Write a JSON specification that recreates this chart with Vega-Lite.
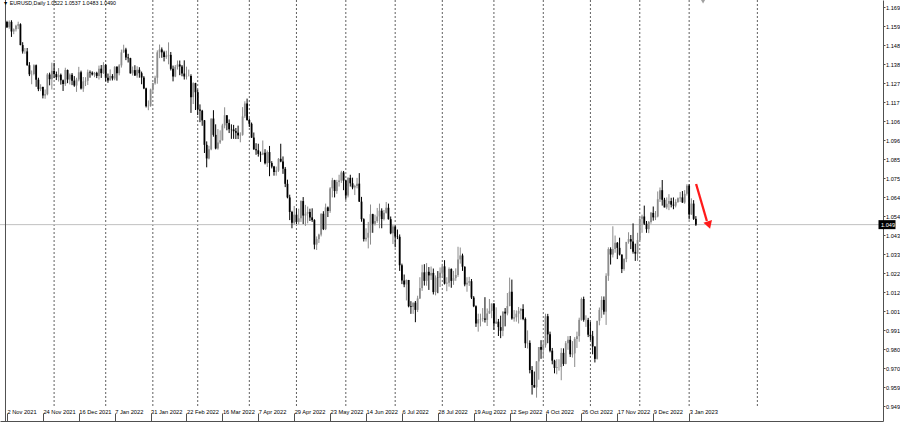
{
"$schema":"https://vega.github.io/schema/vega-lite/v6.json",
"width":883,"height":421,
"autosize":{"type":"none"},
"padding":{"left":0,"top":0,"right":17,"bottom":3},
"background":"white",
"config":{"view":{"stroke":null},"axis":{"labelFont":"Liberation Sans","labelOverlap":false,"labelBound":false,"labelFlush":false},"axisY":{"labelOverlap":false},"axisX":{"labelOverlap":false},"font":"Liberation Sans"},
"title":{"text":"▼ EURUSD,Daily  1.0522 1.0537 1.0483 1.0490","anchor":"start","frame":"group","offset":-7,"dx":3,"fontSize":5.3,"fontWeight":"normal","font":"Liberation Sans","color":"#000000"},
"datasets":{
"grid":[{"n":22},{"n":45},{"n":66},{"n":86},{"n":109},{"n":130},{"n":152},{"n":174},{"n":195},{"n":218},{"n":240},{"n":261},{"n":283},{"n":305},{"n":335.4}],
"ohlc":[
{"d":"2021-11-02","o":1.1607,"h":1.1614,"l":1.1574,"c":1.1579},
{"d":"2021-11-03","o":1.1579,"h":1.1616,"l":1.1570,"c":1.1608},
{"d":"2021-11-04","o":1.1608,"h":1.1617,"l":1.1525,"c":1.1555},
{"d":"2021-11-05","o":1.1555,"h":1.1572,"l":1.1540,"c":1.1567},
{"d":"2021-11-08","o":1.1567,"h":1.1592,"l":1.1555,"c":1.1587},
{"d":"2021-11-09","o":1.1587,"h":1.1609,"l":1.1568,"c":1.1595},
{"d":"2021-11-10","o":1.1595,"h":1.1600,"l":1.1479,"c":1.1480},
{"d":"2021-11-11","o":1.1480,"h":1.1496,"l":1.1433,"c":1.1445},
{"d":"2021-11-12","o":1.1445,"h":1.1464,"l":1.1432,"c":1.1445},
{"d":"2021-11-15","o":1.1445,"h":1.1464,"l":1.1366,"c":1.1369},
{"d":"2021-11-16","o":1.1369,"h":1.1386,"l":1.1309,"c":1.1319},
{"d":"2021-11-17","o":1.1319,"h":1.1340,"l":1.1264,"c":1.1320},
{"d":"2021-11-18","o":1.1320,"h":1.1374,"l":1.1313,"c":1.1369},
{"d":"2021-11-19","o":1.1369,"h":1.1373,"l":1.1250,"c":1.1289},
{"d":"2021-11-22","o":1.1289,"h":1.1300,"l":1.1226,"c":1.1237},
{"d":"2021-11-23","o":1.1237,"h":1.1264,"l":1.1226,"c":1.1249},
{"d":"2021-11-24","o":1.1249,"h":1.1251,"l":1.1186,"c":1.1202},
{"d":"2021-11-25","o":1.1202,"h":1.1235,"l":1.1184,"c":1.1209},
{"d":"2021-11-26","o":1.1209,"h":1.1326,"l":1.1203,"c":1.1318},
{"d":"2021-11-29","o":1.1318,"h":1.1328,"l":1.1258,"c":1.1292},
{"d":"2021-11-30","o":1.1292,"h":1.1383,"l":1.1235,"c":1.1338},
{"d":"2021-12-01","o":1.1338,"h":1.1382,"l":1.1298,"c":1.1320},
{"d":"2021-12-02","o":1.1320,"h":1.1334,"l":1.1287,"c":1.1303},
{"d":"2021-12-03","o":1.1303,"h":1.1353,"l":1.1279,"c":1.1316},
{"d":"2021-12-06","o":1.1316,"h":1.1323,"l":1.1262,"c":1.1286},
{"d":"2021-12-07","o":1.1286,"h":1.1290,"l":1.1227,"c":1.1265},
{"d":"2021-12-08","o":1.1265,"h":1.1355,"l":1.1255,"c":1.1343},
{"d":"2021-12-09","o":1.1343,"h":1.1345,"l":1.1270,"c":1.1290},
{"d":"2021-12-10","o":1.1290,"h":1.1324,"l":1.1263,"c":1.1317},
{"d":"2021-12-13","o":1.1317,"h":1.1326,"l":1.1259,"c":1.1284},
{"d":"2021-12-14","o":1.1284,"h":1.1309,"l":1.1250,"c":1.1257},
{"d":"2021-12-15","o":1.1257,"h":1.1300,"l":1.1222,"c":1.1290},
{"d":"2021-12-16","o":1.1290,"h":1.1360,"l":1.1280,"c":1.1330},
{"d":"2021-12-17","o":1.1330,"h":1.1339,"l":1.1235,"c":1.1240},
{"d":"2021-12-20","o":1.1240,"h":1.1304,"l":1.1222,"c":1.1280},
{"d":"2021-12-21","o":1.1280,"h":1.1303,"l":1.1254,"c":1.1283},
{"d":"2021-12-22","o":1.1283,"h":1.1345,"l":1.1260,"c":1.1330},
{"d":"2021-12-23","o":1.1330,"h":1.1340,"l":1.1300,"c":1.1328},
{"d":"2021-12-24","o":1.1328,"h":1.1335,"l":1.1312,"c":1.1318},
{"d":"2021-12-27","o":1.1318,"h":1.1332,"l":1.1303,"c":1.1327},
{"d":"2021-12-28","o":1.1327,"h":1.1333,"l":1.1298,"c":1.1310},
{"d":"2021-12-29","o":1.1310,"h":1.1367,"l":1.1290,"c":1.1350},
{"d":"2021-12-30","o":1.1350,"h":1.1370,"l":1.1299,"c":1.1325},
{"d":"2021-12-31","o":1.1325,"h":1.1386,"l":1.1321,"c":1.1370},
{"d":"2022-01-03","o":1.1370,"h":1.1376,"l":1.1280,"c":1.1300},
{"d":"2022-01-04","o":1.1300,"h":1.1323,"l":1.1272,"c":1.1285},
{"d":"2022-01-05","o":1.1285,"h":1.1346,"l":1.1285,"c":1.1310},
{"d":"2022-01-06","o":1.1310,"h":1.1320,"l":1.1285,"c":1.1296},
{"d":"2022-01-07","o":1.1296,"h":1.1364,"l":1.1286,"c":1.1360},
{"d":"2022-01-10","o":1.1360,"h":1.1363,"l":1.1284,"c":1.1325},
{"d":"2022-01-11","o":1.1325,"h":1.1375,"l":1.1313,"c":1.1368},
{"d":"2022-01-12","o":1.1368,"h":1.1455,"l":1.1356,"c":1.1440},
{"d":"2022-01-13","o":1.1440,"h":1.1482,"l":1.1437,"c":1.1455},
{"d":"2022-01-14","o":1.1455,"h":1.1465,"l":1.1397,"c":1.1412},
{"d":"2022-01-17","o":1.1412,"h":1.1432,"l":1.1384,"c":1.1408},
{"d":"2022-01-18","o":1.1408,"h":1.1410,"l":1.1323,"c":1.1324},
{"d":"2022-01-19","o":1.1324,"h":1.1362,"l":1.1312,"c":1.1342},
{"d":"2022-01-20","o":1.1342,"h":1.1369,"l":1.1310,"c":1.1312},
{"d":"2022-01-21","o":1.1312,"h":1.1363,"l":1.1300,"c":1.1344},
{"d":"2022-01-24","o":1.1344,"h":1.1358,"l":1.1300,"c":1.1325},
{"d":"2022-01-25","o":1.1325,"h":1.1334,"l":1.1264,"c":1.1301},
{"d":"2022-01-26","o":1.1301,"h":1.1309,"l":1.1237,"c":1.1241},
{"d":"2022-01-27","o":1.1241,"h":1.1245,"l":1.1136,"c":1.1143},
{"d":"2022-01-28","o":1.1143,"h":1.1175,"l":1.1121,"c":1.1145},
{"d":"2022-01-31","o":1.1145,"h":1.1240,"l":1.1140,"c":1.1235},
{"d":"2022-02-01","o":1.1235,"h":1.1272,"l":1.1215,"c":1.1270},
{"d":"2022-02-02","o":1.1270,"h":1.1311,"l":1.1262,"c":1.1300},
{"d":"2022-02-03","o":1.1300,"h":1.1451,"l":1.1267,"c":1.1440},
{"d":"2022-02-04","o":1.1440,"h":1.1483,"l":1.1408,"c":1.1456},
{"d":"2022-02-07","o":1.1456,"h":1.1467,"l":1.1410,"c":1.1440},
{"d":"2022-02-08","o":1.1440,"h":1.1449,"l":1.1390,"c":1.1414},
{"d":"2022-02-09","o":1.1414,"h":1.1449,"l":1.1404,"c":1.1423},
{"d":"2022-02-10","o":1.1423,"h":1.1495,"l":1.1374,"c":1.1426},
{"d":"2022-02-11","o":1.1426,"h":1.1442,"l":1.1340,"c":1.1349},
{"d":"2022-02-14","o":1.1349,"h":1.1367,"l":1.1280,"c":1.1307},
{"d":"2022-02-15","o":1.1307,"h":1.1370,"l":1.1303,"c":1.1360},
{"d":"2022-02-16","o":1.1360,"h":1.1395,"l":1.1345,"c":1.1373},
{"d":"2022-02-17","o":1.1373,"h":1.1395,"l":1.1314,"c":1.1362},
{"d":"2022-02-18","o":1.1362,"h":1.1370,"l":1.1308,"c":1.1323},
{"d":"2022-02-21","o":1.1323,"h":1.1396,"l":1.1290,"c":1.1307},
{"d":"2022-02-22","o":1.1307,"h":1.1361,"l":1.1290,"c":1.1309},
{"d":"2022-02-23","o":1.1309,"h":1.1345,"l":1.1308,"c":1.1310},
{"d":"2022-02-24","o":1.1310,"h":1.1319,"l":1.1106,"c":1.1193},
{"d":"2022-02-25","o":1.1193,"h":1.1275,"l":1.1155,"c":1.1270},
{"d":"2022-02-28","o":1.1270,"h":1.1272,"l":1.1122,"c":1.1220},
{"d":"2022-03-01","o":1.1220,"h":1.1234,"l":1.1094,"c":1.1125},
{"d":"2022-03-02","o":1.1125,"h":1.1153,"l":1.1055,"c":1.1118},
{"d":"2022-03-03","o":1.1118,"h":1.1123,"l":1.1035,"c":1.1065},
{"d":"2022-03-04","o":1.1065,"h":1.1067,"l":1.0885,"c":1.0930},
{"d":"2022-03-07","o":1.0930,"h":1.0949,"l":1.0806,"c":1.0855},
{"d":"2022-03-08","o":1.0855,"h":1.0925,"l":1.0850,"c":1.0905},
{"d":"2022-03-09","o":1.0905,"h":1.1075,"l":1.0900,"c":1.1075},
{"d":"2022-03-10","o":1.1075,"h":1.1121,"l":1.0975,"c":1.0985},
{"d":"2022-03-11","o":1.0985,"h":1.1043,"l":1.0905,"c":1.0910},
{"d":"2022-03-14","o":1.0910,"h":1.1017,"l":1.0903,"c":1.0943},
{"d":"2022-03-15","o":1.0943,"h":1.1010,"l":1.0935,"c":1.0955},
{"d":"2022-03-16","o":1.0955,"h":1.1046,"l":1.0954,"c":1.1037},
{"d":"2022-03-17","o":1.1037,"h":1.1137,"l":1.1021,"c":1.1093},
{"d":"2022-03-18","o":1.1093,"h":1.1094,"l":1.1010,"c":1.1050},
{"d":"2022-03-21","o":1.1050,"h":1.1070,"l":1.0995,"c":1.1016},
{"d":"2022-03-22","o":1.1016,"h":1.1043,"l":1.0963,"c":1.1015},
{"d":"2022-03-23","o":1.1015,"h":1.1040,"l":1.0963,"c":1.1005},
{"d":"2022-03-24","o":1.1005,"h":1.1023,"l":1.0962,"c":1.0997},
{"d":"2022-03-25","o":1.0997,"h":1.1036,"l":1.0962,"c":1.0982},
{"d":"2022-03-28","o":1.0982,"h":1.0999,"l":1.0944,"c":1.0985},
{"d":"2022-03-29","o":1.0985,"h":1.1138,"l":1.0980,"c":1.1087},
{"d":"2022-03-30","o":1.1087,"h":1.1170,"l":1.1078,"c":1.1158},
{"d":"2022-03-31","o":1.1158,"h":1.1185,"l":1.1063,"c":1.1067},
{"d":"2022-04-01","o":1.1067,"h":1.1076,"l":1.1028,"c":1.1046},
{"d":"2022-04-04","o":1.1046,"h":1.1053,"l":1.0968,"c":1.0970},
{"d":"2022-04-05","o":1.0970,"h":1.0998,"l":1.0903,"c":1.0905},
{"d":"2022-04-06","o":1.0905,"h":1.0939,"l":1.0875,"c":1.0900},
{"d":"2022-04-07","o":1.0900,"h":1.0936,"l":1.0865,"c":1.0880},
{"d":"2022-04-08","o":1.0880,"h":1.0893,"l":1.0836,"c":1.0877},
{"d":"2022-04-11","o":1.0877,"h":1.0954,"l":1.0873,"c":1.0886},
{"d":"2022-04-12","o":1.0886,"h":1.0906,"l":1.0822,"c":1.0828},
{"d":"2022-04-13","o":1.0828,"h":1.0899,"l":1.0808,"c":1.0890},
{"d":"2022-04-14","o":1.0890,"h":1.0924,"l":1.0757,"c":1.0830},
{"d":"2022-04-15","o":1.0830,"h":1.0840,"l":1.0800,"c":1.0810},
{"d":"2022-04-18","o":1.0810,"h":1.0814,"l":1.0760,"c":1.0780},
{"d":"2022-04-19","o":1.0780,"h":1.0810,"l":1.0760,"c":1.0788},
{"d":"2022-04-20","o":1.0788,"h":1.0857,"l":1.0781,"c":1.0853},
{"d":"2022-04-21","o":1.0853,"h":1.0936,"l":1.0834,"c":1.0838},
{"d":"2022-04-22","o":1.0838,"h":1.0866,"l":1.0770,"c":1.0798},
{"d":"2022-04-25","o":1.0798,"h":1.0808,"l":1.0697,"c":1.0715},
{"d":"2022-04-26","o":1.0715,"h":1.0738,"l":1.0635,"c":1.0640},
{"d":"2022-04-27","o":1.0640,"h":1.0655,"l":1.0515,"c":1.0560},
{"d":"2022-04-28","o":1.0560,"h":1.0566,"l":1.0470,"c":1.0500},
{"d":"2022-04-29","o":1.0500,"h":1.0593,"l":1.0490,"c":1.0545},
{"d":"2022-05-02","o":1.0545,"h":1.0580,"l":1.0492,"c":1.0505},
{"d":"2022-05-03","o":1.0505,"h":1.0578,"l":1.0492,"c":1.0525},
{"d":"2022-05-04","o":1.0525,"h":1.0624,"l":1.0505,"c":1.0620},
{"d":"2022-05-05","o":1.0620,"h":1.0642,"l":1.0493,"c":1.0540},
{"d":"2022-05-06","o":1.0540,"h":1.0599,"l":1.0483,"c":1.0550},
{"d":"2022-05-09","o":1.0550,"h":1.0590,"l":1.0497,"c":1.0560},
{"d":"2022-05-10","o":1.0560,"h":1.0578,"l":1.0510,"c":1.0530},
{"d":"2022-05-11","o":1.0530,"h":1.0580,"l":1.0505,"c":1.0515},
{"d":"2022-05-12","o":1.0515,"h":1.0520,"l":1.0354,"c":1.0380},
{"d":"2022-05-13","o":1.0380,"h":1.0425,"l":1.0350,"c":1.0410},
{"d":"2022-05-16","o":1.0410,"h":1.0440,"l":1.0389,"c":1.0435},
{"d":"2022-05-17","o":1.0435,"h":1.0552,"l":1.0425,"c":1.0550},
{"d":"2022-05-18","o":1.0550,"h":1.0564,"l":1.0460,"c":1.0465},
{"d":"2022-05-19","o":1.0465,"h":1.0606,"l":1.0460,"c":1.0585},
{"d":"2022-05-20","o":1.0585,"h":1.0590,"l":1.0532,"c":1.0565},
{"d":"2022-05-23","o":1.0565,"h":1.0697,"l":1.0555,"c":1.0690},
{"d":"2022-05-24","o":1.0690,"h":1.0748,"l":1.0640,"c":1.0735},
{"d":"2022-05-25","o":1.0735,"h":1.0737,"l":1.0640,"c":1.0675},
{"d":"2022-05-26","o":1.0675,"h":1.0737,"l":1.0660,"c":1.0725},
{"d":"2022-05-27","o":1.0725,"h":1.0765,"l":1.0700,"c":1.0733},
{"d":"2022-05-30","o":1.0733,"h":1.0787,"l":1.0720,"c":1.0778},
{"d":"2022-05-31","o":1.0778,"h":1.0786,"l":1.0680,"c":1.0733},
{"d":"2022-06-01","o":1.0733,"h":1.0738,"l":1.0627,"c":1.0650},
{"d":"2022-06-02","o":1.0650,"h":1.0750,"l":1.0640,"c":1.0748},
{"d":"2022-06-03","o":1.0748,"h":1.0765,"l":1.0700,"c":1.0718},
{"d":"2022-06-06","o":1.0718,"h":1.0749,"l":1.0685,"c":1.0695},
{"d":"2022-06-07","o":1.0695,"h":1.0710,"l":1.0653,"c":1.0703},
{"d":"2022-06-08","o":1.0703,"h":1.0748,"l":1.0690,"c":1.0716},
{"d":"2022-06-09","o":1.0716,"h":1.0774,"l":1.0615,"c":1.0617},
{"d":"2022-06-10","o":1.0617,"h":1.0643,"l":1.0506,"c":1.0520},
{"d":"2022-06-13","o":1.0520,"h":1.0525,"l":1.0397,"c":1.0410},
{"d":"2022-06-14","o":1.0410,"h":1.0470,"l":1.0397,"c":1.0418},
{"d":"2022-06-15","o":1.0418,"h":1.0505,"l":1.0359,"c":1.0445},
{"d":"2022-06-16","o":1.0445,"h":1.0601,"l":1.0380,"c":1.0548},
{"d":"2022-06-17","o":1.0548,"h":1.0550,"l":1.0445,"c":1.0495},
{"d":"2022-06-20","o":1.0495,"h":1.0545,"l":1.0485,"c":1.0510},
{"d":"2022-06-21","o":1.0510,"h":1.0582,"l":1.0500,"c":1.0535},
{"d":"2022-06-22","o":1.0535,"h":1.0606,"l":1.0470,"c":1.0567},
{"d":"2022-06-23","o":1.0567,"h":1.0580,"l":1.0470,"c":1.0521},
{"d":"2022-06-24","o":1.0521,"h":1.0571,"l":1.0513,"c":1.0555},
{"d":"2022-06-27","o":1.0555,"h":1.0615,"l":1.0551,"c":1.0583},
{"d":"2022-06-28","o":1.0583,"h":1.0606,"l":1.0518,"c":1.0520},
{"d":"2022-06-29","o":1.0520,"h":1.0535,"l":1.0437,"c":1.0442},
{"d":"2022-06-30","o":1.0442,"h":1.0488,"l":1.0383,"c":1.0480},
{"d":"2022-07-01","o":1.0480,"h":1.0486,"l":1.0365,"c":1.0425},
{"d":"2022-07-04","o":1.0425,"h":1.0463,"l":1.0410,"c":1.0423},
{"d":"2022-07-05","o":1.0423,"h":1.0436,"l":1.0235,"c":1.0266},
{"d":"2022-07-06","o":1.0266,"h":1.0275,"l":1.0162,"c":1.0182},
{"d":"2022-07-07","o":1.0182,"h":1.0215,"l":1.0145,"c":1.0160},
{"d":"2022-07-08","o":1.0160,"h":1.0187,"l":1.0072,"c":1.0185},
{"d":"2022-07-11","o":1.0185,"h":1.0185,"l":1.0034,"c":1.0040},
{"d":"2022-07-12","o":1.0040,"h":1.0068,"l":0.9998,"c":1.0036},
{"d":"2022-07-13","o":1.0036,"h":1.0060,"l":0.9998,"c":1.0060},
{"d":"2022-07-14","o":1.0060,"h":1.0069,"l":0.9952,"c":1.0020},
{"d":"2022-07-15","o":1.0020,"h":1.0098,"l":1.0008,"c":1.0083},
{"d":"2022-07-18","o":1.0083,"h":1.0200,"l":1.0080,"c":1.0140},
{"d":"2022-07-19","o":1.0140,"h":1.0269,"l":1.0125,"c":1.0227},
{"d":"2022-07-20","o":1.0227,"h":1.0272,"l":1.0154,"c":1.0180},
{"d":"2022-07-21","o":1.0180,"h":1.0278,"l":1.0153,"c":1.0230},
{"d":"2022-07-22","o":1.0230,"h":1.0256,"l":1.0130,"c":1.0210},
{"d":"2022-07-25","o":1.0210,"h":1.0259,"l":1.0185,"c":1.0224},
{"d":"2022-07-26","o":1.0224,"h":1.0248,"l":1.0105,"c":1.0118},
{"d":"2022-07-27","o":1.0118,"h":1.0210,"l":1.0100,"c":1.0198},
{"d":"2022-07-28","o":1.0198,"h":1.0234,"l":1.0112,"c":1.0197},
{"d":"2022-07-29","o":1.0197,"h":1.0254,"l":1.0146,"c":1.0225},
{"d":"2022-08-01","o":1.0225,"h":1.0274,"l":1.0197,"c":1.0260},
{"d":"2022-08-02","o":1.0260,"h":1.0294,"l":1.0160,"c":1.0165},
{"d":"2022-08-03","o":1.0165,"h":1.0200,"l":1.0123,"c":1.0170},
{"d":"2022-08-04","o":1.0170,"h":1.0254,"l":1.0148,"c":1.0245},
{"d":"2022-08-05","o":1.0245,"h":1.0249,"l":1.0142,"c":1.0180},
{"d":"2022-08-08","o":1.0180,"h":1.0235,"l":1.0158,"c":1.0195},
{"d":"2022-08-09","o":1.0195,"h":1.0249,"l":1.0180,"c":1.0212},
{"d":"2022-08-10","o":1.0212,"h":1.0368,"l":1.0202,"c":1.0298},
{"d":"2022-08-11","o":1.0298,"h":1.0364,"l":1.0275,"c":1.0320},
{"d":"2022-08-12","o":1.0320,"h":1.0330,"l":1.0235,"c":1.0258},
{"d":"2022-08-15","o":1.0258,"h":1.0260,"l":1.0150,"c":1.0160},
{"d":"2022-08-16","o":1.0160,"h":1.0200,"l":1.0120,"c":1.0170},
{"d":"2022-08-17","o":1.0170,"h":1.0202,"l":1.0152,"c":1.0178},
{"d":"2022-08-18","o":1.0178,"h":1.0190,"l":1.0080,"c":1.0088},
{"d":"2022-08-19","o":1.0088,"h":1.0096,"l":1.0035,"c":1.0040},
{"d":"2022-08-22","o":1.0040,"h":1.0045,"l":0.9926,"c":0.9945},
{"d":"2022-08-23","o":0.9945,"h":0.9999,"l":0.9900,"c":0.9968},
{"d":"2022-08-24","o":0.9968,"h":0.9999,"l":0.9929,"c":0.9970},
{"d":"2022-08-25","o":0.9970,"h":1.0030,"l":0.9955,"c":0.9973},
{"d":"2022-08-26","o":0.9973,"h":1.0090,"l":0.9950,"c":0.9965},
{"d":"2022-08-29","o":0.9965,"h":1.0028,"l":0.9931,"c":1.0000},
{"d":"2022-08-30","o":1.0000,"h":1.0080,"l":0.9998,"c":1.0015},
{"d":"2022-08-31","o":1.0015,"h":1.0055,"l":0.9974,"c":1.0055},
{"d":"2022-09-01","o":1.0055,"h":1.0056,"l":0.9910,"c":0.9945},
{"d":"2022-09-02","o":0.9945,"h":1.0034,"l":0.9942,"c":0.9955},
{"d":"2022-09-05","o":0.9955,"h":0.9970,"l":0.9876,"c":0.9925},
{"d":"2022-09-06","o":0.9925,"h":0.9988,"l":0.9864,"c":0.9905},
{"d":"2022-09-07","o":0.9905,"h":1.0012,"l":0.9875,"c":1.0010},
{"d":"2022-09-08","o":1.0010,"h":1.0030,"l":0.9929,"c":1.0000},
{"d":"2022-09-09","o":1.0000,"h":1.0113,"l":0.9990,"c":1.0041},
{"d":"2022-09-12","o":1.0041,"h":1.0198,"l":1.0040,"c":1.0120},
{"d":"2022-09-13","o":1.0120,"h":1.0187,"l":0.9966,"c":0.9972},
{"d":"2022-09-14","o":0.9972,"h":1.0019,"l":0.9955,"c":0.9979},
{"d":"2022-09-15","o":0.9979,"h":1.0017,"l":0.9955,"c":0.9999},
{"d":"2022-09-16","o":0.9999,"h":1.0036,"l":0.9945,"c":1.0015},
{"d":"2022-09-19","o":1.0015,"h":1.0030,"l":0.9966,"c":1.0025},
{"d":"2022-09-20","o":1.0025,"h":1.0051,"l":0.9963,"c":0.9970},
{"d":"2022-09-21","o":0.9970,"h":0.9978,"l":0.9810,"c":0.9836},
{"d":"2022-09-22","o":0.9836,"h":0.9907,"l":0.9807,"c":0.9838},
{"d":"2022-09-23","o":0.9838,"h":0.9852,"l":0.9670,"c":0.9688},
{"d":"2022-09-26","o":0.9688,"h":0.9710,"l":0.9553,"c":0.9606},
{"d":"2022-09-27","o":0.9606,"h":0.9680,"l":0.9590,"c":0.9593},
{"d":"2022-09-28","o":0.9593,"h":0.9737,"l":0.9536,"c":0.9736},
{"d":"2022-09-29","o":0.9736,"h":0.9815,"l":0.9635,"c":0.9815},
{"d":"2022-09-30","o":0.9815,"h":0.9853,"l":0.9750,"c":0.9800},
{"d":"2022-10-03","o":0.9800,"h":0.9853,"l":0.9752,"c":0.9825},
{"d":"2022-10-04","o":0.9825,"h":0.9999,"l":0.9812,"c":0.9985},
{"d":"2022-10-05","o":0.9985,"h":0.9998,"l":0.9836,"c":0.9885},
{"d":"2022-10-06","o":0.9885,"h":0.9900,"l":0.9786,"c":0.9795},
{"d":"2022-10-07","o":0.9795,"h":0.9810,"l":0.9720,"c":0.9740},
{"d":"2022-10-10","o":0.9740,"h":0.9745,"l":0.9670,"c":0.9700},
{"d":"2022-10-11","o":0.9700,"h":0.9748,"l":0.9665,"c":0.9705},
{"d":"2022-10-12","o":0.9705,"h":0.9748,"l":0.9685,"c":0.9705},
{"d":"2022-10-13","o":0.9705,"h":0.9809,"l":0.9632,"c":0.9783},
{"d":"2022-10-14","o":0.9783,"h":0.9808,"l":0.9711,"c":0.9722},
{"d":"2022-10-17","o":0.9722,"h":0.9848,"l":0.9720,"c":0.9836},
{"d":"2022-10-18","o":0.9836,"h":0.9875,"l":0.9800,"c":0.9855},
{"d":"2022-10-19","o":0.9855,"h":0.9876,"l":0.9760,"c":0.9775},
{"d":"2022-10-20","o":0.9775,"h":0.9848,"l":0.9757,"c":0.9780},
{"d":"2022-10-21","o":0.9780,"h":0.9870,"l":0.9705,"c":0.9860},
{"d":"2022-10-24","o":0.9860,"h":0.9900,"l":0.9810,"c":0.9875},
{"d":"2022-10-25","o":0.9875,"h":0.9977,"l":0.9844,"c":0.9965},
{"d":"2022-10-26","o":0.9965,"h":1.0088,"l":0.9960,"c":1.0080},
{"d":"2022-10-27","o":1.0080,"h":1.0093,"l":0.9955,"c":0.9965},
{"d":"2022-10-28","o":0.9965,"h":0.9990,"l":0.9926,"c":0.9965},
{"d":"2022-10-31","o":0.9965,"h":0.9976,"l":0.9870,"c":0.9883},
{"d":"2022-11-01","o":0.9883,"h":0.9953,"l":0.9853,"c":0.9875},
{"d":"2022-11-02","o":0.9875,"h":0.9904,"l":0.9775,"c":0.9818},
{"d":"2022-11-03","o":0.9818,"h":0.9819,"l":0.9730,"c":0.9750},
{"d":"2022-11-04","o":0.9750,"h":0.9958,"l":0.9746,"c":0.9960},
{"d":"2022-11-07","o":0.9960,"h":1.0033,"l":0.9935,"c":1.0020},
{"d":"2022-11-08","o":1.0020,"h":1.0095,"l":0.9975,"c":1.0075},
{"d":"2022-11-09","o":1.0075,"h":1.0094,"l":0.9994,"c":1.0010},
{"d":"2022-11-10","o":1.0010,"h":1.0222,"l":0.9937,"c":1.0208},
{"d":"2022-11-11","o":1.0208,"h":1.0365,"l":1.0180,"c":1.0355},
{"d":"2022-11-14","o":1.0355,"h":1.0365,"l":1.0270,"c":1.0325},
{"d":"2022-11-15","o":1.0325,"h":1.0481,"l":1.0309,"c":1.0355},
{"d":"2022-11-16","o":1.0355,"h":1.0430,"l":1.0335,"c":1.0390},
{"d":"2022-11-17","o":1.0390,"h":1.0394,"l":1.0300,"c":1.0362},
{"d":"2022-11-18","o":1.0362,"h":1.0418,"l":1.0320,"c":1.0325},
{"d":"2022-11-21","o":1.0325,"h":1.0325,"l":1.0223,"c":1.0245},
{"d":"2022-11-22","o":1.0245,"h":1.0305,"l":1.0236,"c":1.0300},
{"d":"2022-11-23","o":1.0300,"h":1.0393,"l":1.0283,"c":1.0395},
{"d":"2022-11-24","o":1.0395,"h":1.0448,"l":1.0385,"c":1.0410},
{"d":"2022-11-25","o":1.0410,"h":1.0433,"l":1.0355,"c":1.0397},
{"d":"2022-11-28","o":1.0397,"h":1.0497,"l":1.0330,"c":1.0340},
{"d":"2022-11-29","o":1.0340,"h":1.0385,"l":1.0290,"c":1.0330},
{"d":"2022-11-30","o":1.0330,"h":1.0445,"l":1.0290,"c":1.0405},
{"d":"2022-12-01","o":1.0405,"h":1.0535,"l":1.0395,"c":1.0522},
{"d":"2022-12-02","o":1.0522,"h":1.0545,"l":1.0445,"c":1.0535},
{"d":"2022-12-05","o":1.0535,"h":1.0595,"l":1.0488,"c":1.0495},
{"d":"2022-12-06","o":1.0495,"h":1.0510,"l":1.0445,"c":1.0465},
{"d":"2022-12-07","o":1.0465,"h":1.0510,"l":1.0443,"c":1.0505},
{"d":"2022-12-08","o":1.0505,"h":1.0560,"l":1.0495,"c":1.0555},
{"d":"2022-12-09","o":1.0555,"h":1.0590,"l":1.0512,"c":1.0530},
{"d":"2022-12-12","o":1.0530,"h":1.0565,"l":1.0515,"c":1.0535},
{"d":"2022-12-13","o":1.0535,"h":1.0673,"l":1.0530,"c":1.0630},
{"d":"2022-12-14","o":1.0630,"h":1.0695,"l":1.0615,"c":1.0680},
{"d":"2022-12-15","o":1.0680,"h":1.0736,"l":1.0595,"c":1.0627},
{"d":"2022-12-16","o":1.0627,"h":1.0638,"l":1.0585,"c":1.0585},
{"d":"2022-12-19","o":1.0585,"h":1.0640,"l":1.0575,"c":1.0605},
{"d":"2022-12-20","o":1.0605,"h":1.0658,"l":1.0570,"c":1.0620},
{"d":"2022-12-21","o":1.0620,"h":1.0638,"l":1.0585,"c":1.0600},
{"d":"2022-12-22","o":1.0600,"h":1.0640,"l":1.0575,"c":1.0595},
{"d":"2022-12-23","o":1.0595,"h":1.0630,"l":1.0585,"c":1.0615},
{"d":"2022-12-26","o":1.0615,"h":1.0640,"l":1.0610,"c":1.0635},
{"d":"2022-12-27","o":1.0635,"h":1.0670,"l":1.0615,"c":1.0640},
{"d":"2022-12-28","o":1.0640,"h":1.0675,"l":1.0610,"c":1.0612},
{"d":"2022-12-29","o":1.0612,"h":1.0680,"l":1.0605,"c":1.0660},
{"d":"2022-12-30","o":1.0660,"h":1.0713,"l":1.0650,"c":1.0705},
{"d":"2023-01-03","o":1.0705,"h":1.0713,"l":1.0519,"c":1.0546},
{"d":"2023-01-04","o":1.0546,"h":1.0635,"l":1.0544,"c":1.0606},
{"d":"2023-01-05","o":1.0606,"h":1.0625,"l":1.0516,"c":1.0522},
{"d":"2023-01-06","o":1.0522,"h":1.0537,"l":1.0483,"c":1.0490}
]},
"layer":[
{"data":{"name":"grid"},
 "mark":{"type":"rule","stroke":"#606060","strokeWidth":1,"strokeDash":[2,2]},
 "encoding":{
  "x":{"field":"n","type":"quantitative","title":null,"scale":{"domain":[0.1188,389.16],"nice":false,"zero":false}},
  "y":{"datum":1.17286,"type":"quantitative","title":null,"scale":{"domain":[0.94073,1.17286],"nice":false,"zero":false}},
  "y2":{"datum":0.9479}}},
{"data":{"values":[{}]},
 "mark":{"type":"rule","stroke":"#c0c0c0","strokeWidth":1},
 "encoding":{"y":{"datum":1.049,"type":"quantitative","title":null,"scale":{"domain":[0.94073,1.17286],"nice":false,"zero":false}}}},
{"data":{"values":[{}]},
 "mark":{"type":"rule","stroke":"#505050","strokeWidth":1},
 "encoding":{"x":{"datum":0.339,"type":"quantitative","title":null,"scale":{"domain":[0.1188,389.16],"nice":false,"zero":false}}}},
{"data":{"name":"ohlc"},
 "transform":[{"window":[{"op":"row_number","as":"n"}]}],
 "encoding":{
  "x":{"field":"n","type":"quantitative","title":null,"scale":{"domain":[0.1188,389.16],"nice":false,"zero":false},
   "axis":{"orient":"bottom","title":null,"grid":false,"tickCount":40,"values":[1,17,33,49,65,81,97,113,129,145,161,177,193,209,225,241,257,273,289,305],
    "labelExpr":"['2 Nov 2021','24 Nov 2021','16 Dec 2021','7 Jan 2022','31 Jan 2022','22 Feb 2022','16 Mar 2022','7 Apr 2022','29 Apr 2022','23 May 2022','14 Jun 2022','6 Jul 2022','28 Jul 2022','19 Aug 2022','12 Sep 2022','4 Oct 2022','26 Oct 2022','17 Nov 2022','9 Dec 2022','3 Jan 2023'][(datum.value-1)/16]",
    "domainColor":"#505050","tickColor":"#505050","tickSize":-8,"labelPadding":-5,"labelAlign":"left","labelBaseline":"top","labelDx":2,
    "labelFontSize":5.7,"labelFont":"Liberation Sans","labelColor":"#000000","labelOverlap":false,"labelFlush":false,"labelBound":false}},
  "color":{"condition":{"test":"datum.c >= datum.o","value":"#8c8c8c"},"value":"#000000"}},
 "layer":[
  {"mark":{"type":"rule","strokeWidth":1},
   "encoding":{
    "y":{"field":"h","type":"quantitative","title":null,"scale":{"domain":[0.94073,1.17286],"nice":false,"zero":false},
     "axis":{"orient":"right","title":null,"grid":false,"tickCount":40,
      "values":[1.169,1.158524,1.148048,1.137571,1.127095,1.116619,1.106143,1.095667,1.08519,1.074714,1.064238,1.053762,1.043286,1.03281,1.022333,1.011857,1.001381,0.990905,0.980429,0.969952,0.959476,0.949],
      "format":".3f","domainColor":"#505050","tickColor":"#505050","tickSize":2,"labelPadding":0.5,"labelAlign":"left","labelBaseline":"middle",
      "labelFontSize":5.6,"labelFont":"Liberation Sans","labelColor":"#000000","labelOverlap":false,"labelFlush":false,"labelBound":false,"labelSeparation":0}},
    "y2":{"field":"l"}}},
  {"mark":{"type":"bar","width":1.8},
   "encoding":{
    "y":{"field":"o","type":"quantitative","title":null,"scale":{"domain":[0.94073,1.17286],"nice":false,"zero":false}},
    "y2":{"field":"c"}}}
 ]},
{"data":{"values":[{}]},
 "mark":{"type":"rule","stroke":"#ff1a1a","strokeWidth":2.3},
 "encoding":{
  "x":{"datum":308.1,"type":"quantitative","title":null,"scale":{"domain":[0.1188,389.16],"nice":false,"zero":false}},
  "x2":{"datum":312.9},
  "y":{"datum":1.0714,"type":"quantitative","title":null,"scale":{"domain":[0.94073,1.17286],"nice":false,"zero":false}},
  "y2":{"datum":1.051}}},
{"data":{"values":[{}]},
 "mark":{"type":"point","shape":"triangle-down","filled":true,"size":80,"angle":-17.6,"color":"#ff1a1a","opacity":1},
 "encoding":{
  "x":{"datum":313.8,"type":"quantitative","title":null,"scale":{"domain":[0.1188,389.16],"nice":false,"zero":false}},
  "y":{"datum":1.0488,"type":"quantitative","title":null,"scale":{"domain":[0.94073,1.17286],"nice":false,"zero":false}}}},
{"data":{"values":[{}]},
 "mark":{"type":"point","shape":"triangle-down","filled":true,"size":30,"color":"#a0a0a0","opacity":1},
 "encoding":{
  "x":{"datum":311.2,"type":"quantitative","title":null,"scale":{"domain":[0.1188,389.16],"nice":false,"zero":false}},
  "y":{"datum":1.1722,"type":"quantitative","title":null,"scale":{"domain":[0.94073,1.17286],"nice":false,"zero":false}}}},
{"data":{"values":[{}]},
 "mark":{"type":"point","shape":"M-1,-0.53L1,-0.53L1,0.53L-1,0.53Z","filled":true,"size":289,"color":"#000000","opacity":1,"xOffset":9},
 "encoding":{
  "x":{"datum":389.16,"type":"quantitative","title":null,"scale":{"domain":[0.1188,389.16],"nice":false,"zero":false}},
  "y":{"datum":1.049,"type":"quantitative","title":null,"scale":{"domain":[0.94073,1.17286],"nice":false,"zero":false}}}},
{"data":{"values":[{}]},
 "mark":{"type":"text","text":"1.049","color":"#ffffff","fontSize":5.6,"font":"Liberation Sans","align":"left","baseline":"middle","dx":3},
 "encoding":{
  "x":{"datum":389.16,"type":"quantitative","title":null,"scale":{"domain":[0.1188,389.16],"nice":false,"zero":false}},
  "y":{"datum":1.049,"type":"quantitative","title":null,"scale":{"domain":[0.94073,1.17286],"nice":false,"zero":false}}}}
]
}
